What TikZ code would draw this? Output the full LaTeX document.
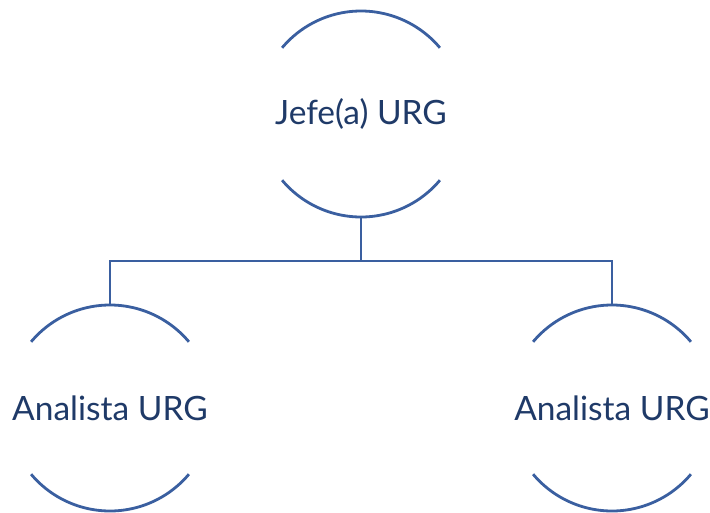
\documentclass[tikz,border=0pt]{standalone}
\usepackage{fontspec}
\setmainfont{Lato}
\usetikzlibrary{calc}
\definecolor{linec}{HTML}{3A5FA0}
\definecolor{textc}{HTML}{1F3A68}
\tikzset{
  person/.style={circle, inner sep=0pt, outer sep=0pt, minimum size=206pt,
    text=textc, font=\fontsize{33.5}{38}\selectfont},
  arcline/.style={draw=linec, line width=2.8pt},
  conn/.style={draw=linec, line width=2.8pt}
}
\begin{document}
\begin{tikzpicture}[x=1pt,y=-1pt]
\useasboundingbox (0,0) rectangle (710,512);
\node[person] (top) at (361,114) {Jefe(a) URG};
\node[person] (l) at (110,408) {Analista URG};
\node[person] (r) at (612,408) {Analista URG};
\foreach \n in {top,l,r}{
  \draw[arcline] (\n.140) arc[start angle=140, end angle=40, radius=103pt];
  \draw[arcline] (\n.220) arc[start angle=220, end angle=320, radius=103pt];
}
\coordinate (j) at ($(top.south)!0.5!(top.south|-l.north)$);
\draw[conn] (top.south) -- (j) -| (l.north);
\draw[conn] (j) -| (r.north);
\end{tikzpicture}
\end{document}
